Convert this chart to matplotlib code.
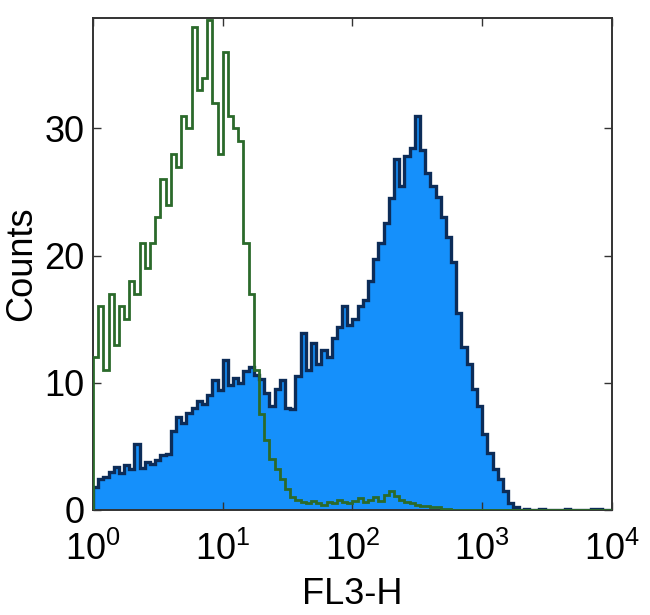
import numpy as np
from matplotlib import pyplot as plt
from matplotlib import ticker

plt.rcParams['font.family'] = ['Liberation Sans', 'DejaVu Sans']
plt.rcParams['mathtext.fontset'] = 'custom'
plt.rcParams['mathtext.rm'] = 'Liberation Sans'

# 100 channels over 4 decades (10^0 .. 10^4)
n_bins = 100
decades = [0, 4]

# isotype control (green outline), counts per channel
control = [12, 16, 11, 17, 13, 16, 15, 18, 17, 21,
           19, 21, 23, 26, 24, 28, 27, 31, 30, 38,
           33, 34, 38.5, 32, 28, 36, 31, 30, 29, 21,
           17, 11, 7.5, 5.5, 4, 3.2, 2.4, 1.6, 1.0, 0.8,
           0.6, 0.5, 0.7, 0.5, 0.4, 0.6, 0.5, 0.8, 0.6, 0.5,
           0.7, 0.9, 0.6, 0.8, 1.0, 0.7, 1.2, 1.5, 1.1, 0.8,
           0.6, 0.5, 0.4, 0.3, 0.3, 0.2, 0.2, 0.1, 0.1, 0,
           0, 0, 0, 0, 0, 0, 0, 0, 0, 0,
           0, 0, 0, 0, 0, 0, 0, 0, 0, 0,
           0, 0, 0, 0, 0, 0, 0, 0, 0, 0]

# stained sample (blue filled)
stained = [1.8, 2.4, 2.6, 3.0, 3.4, 2.9, 3.5, 3.2, 5.2, 3.3,
           3.8, 3.6, 3.9, 4.3, 4.4, 6.2, 7.3, 6.8, 7.6, 8.0,
           8.6, 8.3, 9.0, 10.2, 9.4, 11.8, 9.8, 10.4, 10.0, 10.9,
           11.2, 10.6, 10.3, 9.2, 8.2, 9.5, 10.2, 8.0, 7.9, 10.5,
           13.9, 11.0, 13.1, 11.5, 12.6, 12.0, 13.5, 14.4, 16.0, 14.5,
           15.0, 16.0, 16.5, 18.0, 19.7, 21.0, 22.6, 24.5, 27.6, 25.5,
           27.8, 28.5, 31.0, 28.3, 26.5, 25.5, 24.6, 23.0, 21.5, 19.5,
           15.5, 12.8, 11.5, 9.5, 8.2, 6.0, 4.5, 3.2, 2.4, 1.5,
           0.5, 0.2, 0, 0.1, 0, 0, 0.1, 0, 0, 0,
           0, 0.1, 0, 0, 0, 0, 0.1, 0.1, 0, 0]

xticks = [1, 10, 100, 1000, 10000]
xticklabels = [r'$\mathregular{10^{0}}$', r'$\mathregular{10^{1}}$',
               r'$\mathregular{10^{2}}$', r'$\mathregular{10^{3}}$',
               r'$\mathregular{10^{4}}$']
yticks = [0, 10, 20, 30]

edges = np.logspace(decades[0], decades[1], n_bins + 1)

fig = plt.figure(figsize=(6.5, 6.15), dpi=100)
ax = fig.add_axes([0.143, 0.171, 0.7985, 0.8])

ax.stairs(stained, edges, fill=True, color='#1590fb', zorder=1)
ax.stairs(stained, edges, color='#0c2c58', linewidth=2.4, zorder=2)
ax.stairs(control, edges, color='#2b6a2b', linewidth=2.0, zorder=3)

ax.set_xscale('log')
ax.set_xlim(1, 10000)
ax.set_ylim(0, 38.7)
ax.set_xticks(xticks)
ax.set_xticklabels(xticklabels)
ax.xaxis.set_minor_locator(ticker.LogLocator(base=10, subs=np.arange(2, 10)))
ax.xaxis.set_minor_formatter(ticker.NullFormatter())
ax.set_yticks(yticks)

ax.tick_params(axis='both', which='major', direction='in', length=6, width=1,
               top=True, right=True, labelsize=26, color='#333333', pad=6)
ax.tick_params(axis='x', which='major', pad=16)
ax.tick_params(axis='x', which='minor', direction='in', length=3, width=0.6,
               top=True, color='#999999')
for s in ax.spines.values():
    s.set_linewidth(1.4)
    s.set_color('#333333')

ax.set_xlabel('FL3-H', fontsize=26, labelpad=6)
ax.set_ylabel('Counts', fontsize=26, labelpad=4)

plt.savefig('out.png', dpi=100)
